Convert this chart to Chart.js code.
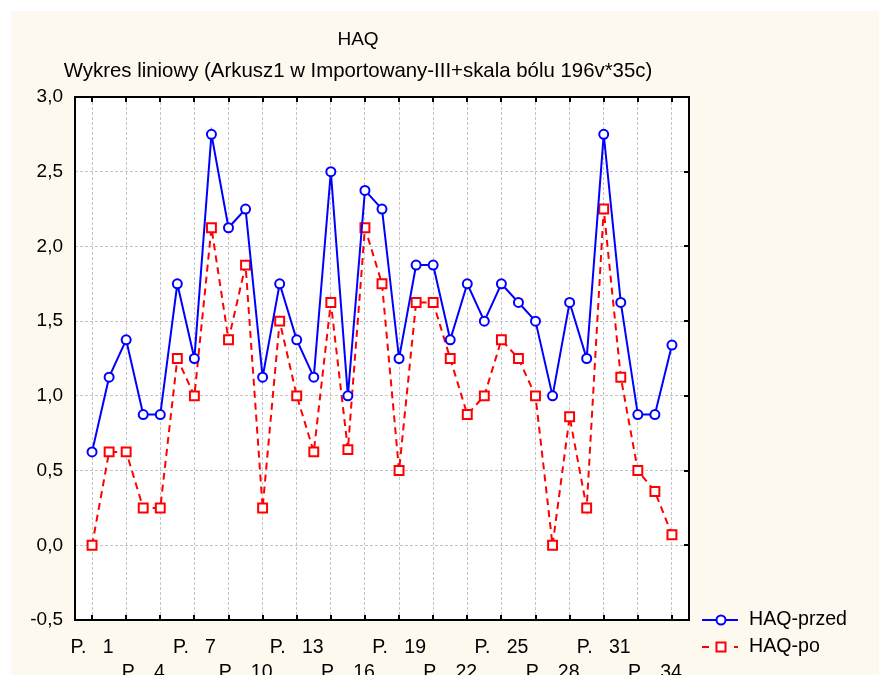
<!DOCTYPE html>
<html>
<head>
<meta charset="utf-8">
<script src="https://cdn.jsdelivr.net/npm/chart.js@4.4.0/dist/chart.umd.min.js"></script>
<style>
html, body { margin: 0; padding: 0; background: #fff; overflow: hidden; }
#wrap { width: 879px; height: 675px; overflow: hidden; }
canvas { display: block; }
</style>
</head>
<body>
<div id="wrap"><canvas id="wykres" width="879" height="690"></canvas></div>
<script>
// dane wykresu
const tytul = 'HAQ';
const podtytul = 'Wykres liniowy (Arkusz1 w Importowany-III+skala bólu 196v*35c)';
const serie = ['HAQ-przed', 'HAQ-po'];
const kategorie = ['P.   1', 'P.   2', 'P.   3', 'P.   4', 'P.   5', 'P.   6', 'P.   7', 'P.   8', 'P.   9', 'P.   10',
    'P.   11', 'P.   12', 'P.   13', 'P.   14', 'P.   15', 'P.   16', 'P.   17', 'P.   18', 'P.   19', 'P.   20',
    'P.   21', 'P.   22', 'P.   23', 'P.   24', 'P.   25', 'P.   26', 'P.   27', 'P.   28', 'P.   29', 'P.   30',
    'P.   31', 'P.   32', 'P.   33', 'P.   34', 'P.   35'];
const haqPrzed = [0.625, 1.125, 1.375, 0.875, 0.875, 1.75, 1.25, 2.75, 2.125, 2.25,
    1.125, 1.75, 1.375, 1.125, 2.5, 1.0, 2.375, 2.25, 1.25, 1.875,
    1.875, 1.375, 1.75, 1.5, 1.75, 1.625, 1.5, 1.0, 1.625, 1.25,
    2.75, 1.625, 0.875, 0.875, 1.34];
const haqPo = [0.0, 0.625, 0.625, 0.25, 0.25, 1.25, 1.0, 2.125, 1.375, 1.875,
    0.25, 1.5, 1.0, 0.625, 1.625, 0.64, 2.125, 1.75, 0.5, 1.625,
    1.625, 1.25, 0.875, 1.0, 1.375, 1.25, 1.0, 0.0, 0.86, 0.25,
    2.25, 1.125, 0.5, 0.36, 0.07];
const yMin = -0.5, yMax = 3.0, yKrok = 0.5;

const FONT = 'Liberation Sans, Arial, sans-serif';
const NIEBIESKI = '#0000ff';
const CZERWONY = '#ff0000';
const SIATKA = '#c4c4c4';

// tlo, ramka, znaczniki wewnatrz, tytuly i legenda
const tlo = {
    id: 'tlo',
    beforeDraw(chart) {
        const c = chart.ctx, a = chart.chartArea;
        c.save();
        c.fillStyle = '#ffffff';
        c.fillRect(0, 0, chart.width, chart.height);
        c.fillStyle = '#fef9ee';
        c.fillRect(11, 11, chart.width - 11, chart.height - 11);
        c.fillStyle = '#ffffff';
        c.fillRect(a.left, a.top, a.right - a.left, a.bottom - a.top);
        c.restore();
    },
    afterDraw(chart) {
        const c = chart.ctx, a = chart.chartArea;
        const sx = chart.scales.x, sy = chart.scales.y;
        c.save();
        c.strokeStyle = '#000';
        c.lineWidth = 2;
        c.setLineDash([]);
        c.strokeRect(a.left, a.top, a.right - a.left, a.bottom - a.top);
        c.beginPath();
        for (let v = 1; v <= kategorie.length; v += 2) {
            const px = Math.round(sx.getPixelForValue(v));
            c.moveTo(px, a.bottom); c.lineTo(px, a.bottom - 5);
            c.moveTo(px, a.top); c.lineTo(px, a.top + 5);
        }
        for (let v = yMin + yKrok; v < yMax; v += yKrok) {
            const py = Math.round(sy.getPixelForValue(v));
            c.moveTo(a.right, py); c.lineTo(a.right - 5, py);
        }
        c.stroke();

        // tytuly
        c.fillStyle = '#000';
        c.textAlign = 'center';
        c.textBaseline = 'middle';
        c.font = '19px ' + FONT;
        c.fillText(tytul, 358, 40);
        c.font = '20.4px ' + FONT;
        c.fillText(podtytul, 358, 71);

        // legenda
        c.font = '19.6px ' + FONT;
        c.textAlign = 'left';
        c.fillText(serie[0], 749, 620);
        c.fillText(serie[1], 749, 647);
        c.lineWidth = 2;
        c.strokeStyle = NIEBIESKI;
        c.beginPath(); c.moveTo(702, 620); c.lineTo(738, 620); c.stroke();
        c.fillStyle = '#fff';
        c.beginPath(); c.arc(721, 620, 4.5, 0, Math.PI * 2); c.fill(); c.stroke();
        c.strokeStyle = CZERWONY;
        c.beginPath(); c.moveTo(702, 647); c.lineTo(709, 647); c.moveTo(734, 647); c.lineTo(738, 647); c.stroke();
        c.fillRect(716.5, 642.5, 9, 9);
        c.strokeRect(716.5, 642.5, 9, 9);
        c.restore();
    }
};

const punkty = (arr) => arr.map((v, i) => ({ x: i + 1, y: v }));

const ctx = document.getElementById('wykres').getContext('2d');
const wykres = new Chart(ctx, {
    type: 'line',
    data: {
        datasets: [{
            label: serie[0],
            data: punkty(haqPrzed),
            borderColor: NIEBIESKI,
            borderWidth: 2,
            pointStyle: 'circle',
            pointRadius: 4.5,
            pointBorderWidth: 2,
            pointBackgroundColor: '#fff',
            pointBorderColor: NIEBIESKI,
            tension: 0,
        }, {
            label: serie[1],
            data: punkty(haqPo),
            borderColor: CZERWONY,
            borderWidth: 2,
            borderDash: [7, 5],
            pointStyle: 'rect',
            pointRadius: 6.3,
            pointBorderWidth: 2,
            pointBackgroundColor: '#fff',
            pointBorderColor: CZERWONY,
            tension: 0,
        }]
    },
    options: {
        responsive: false,
        animation: false,
        devicePixelRatio: 1,
        layout: { padding: { left: 0, top: 97, right: 190, bottom: 0 } },
        scales: {
            x: {
                type: 'linear',
                min: 0,
                max: kategorie.length + 1,
                afterFit: (s) => { s.height = 70; },
                grid: {
                    drawTicks: false,
                    lineWidth: 1,
                    color: (c) => {
                        const v = c.tick ? c.tick.value : 0;
                        return (v % 2 === 1 && v <= kategorie.length) ? SIATKA : 'rgba(0,0,0,0)';
                    },
                },
                border: { display: false, dash: [3, 2] },
                ticks: {
                    stepSize: 1,
                    autoSkip: false,
                    maxRotation: 0,
                    minRotation: 0,
                    padding: 15,
                    color: '#000',
                    font: { family: FONT, size: 19.5, lineHeight: 1.3 },
                    callback: (v) => {
                        const i = v - 1;
                        if (i < 0 || i >= kategorie.length || i % 3 !== 0) return '';
                        return (i % 6 === 0) ? [kategorie[i]] : ['', kategorie[i]];
                    }
                }
            },
            y: {
                min: yMin,
                max: yMax,
                afterFit: (s) => { s.width = 75; },
                grid: {
                    drawTicks: false,
                    lineWidth: 1,
                    color: SIATKA,
                },
                border: { display: false, dash: [3, 2] },
                ticks: {
                    stepSize: yKrok,
                    padding: 12,
                    color: '#000',
                    font: { family: FONT, size: 19 },
                    callback: (v) => v.toFixed(1).replace('.', ',')
                }
            }
        },
        plugins: {
            legend: { display: false },
            title: { display: false },
            tooltip: { enabled: false }
        }
    },
    plugins: [tlo]
});
</script>
</body>
</html>
